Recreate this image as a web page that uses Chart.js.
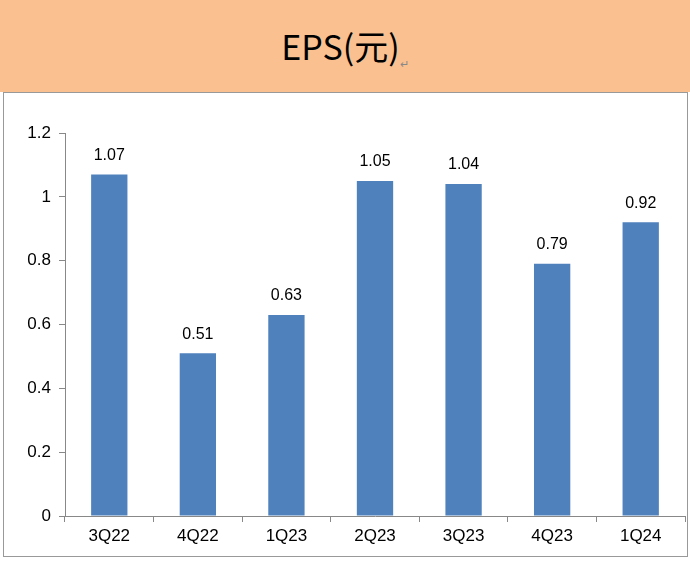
<!DOCTYPE html>
<html><head><meta charset="utf-8">
<script src="https://cdn.jsdelivr.net/npm/chart.js@4"></script>
<style>
body{margin:0;width:690px;height:561px;background:#fff;position:relative;font-family:"Liberation Sans",Arial,sans-serif;overflow:hidden}
#hdr{position:absolute;left:0;top:0;width:690px;height:92px;background:#FAC090;text-align:center;line-height:92px;font-family:"Noto Sans CJK TC","Liberation Sans",sans-serif;font-size:34px;color:#000}
#hdr span{font-size:11px;color:#888;vertical-align:-8px}
#box{position:absolute;left:3px;top:92px;width:683px;height:463px;border:1px solid #999}
</style></head><body>
<div id="hdr">EPS(元)<span>↵</span></div>
<div id="box"><canvas id="c"></canvas></div>
<script>
const categories=['3Q22','4Q22','1Q23','2Q23','3Q23','4Q23','1Q24'];
const eps=[1.07,0.51,0.63,1.05,1.04,0.79,0.92];
const yTicks=[0,0.2,0.4,0.6,0.8,1,1.2];
const labelPlugin={id:'lbl',afterDatasetsDraw(ch){const ctx=ch.ctx;ctx.save();ctx.font='16px "Liberation Sans",Arial';ctx.fillStyle='#000';ctx.textAlign='center';ctx.textBaseline='bottom';
ch.getDatasetMeta(0).data.forEach((b,i)=>{ctx.fillText(eps[i].toFixed(2),b.x,b.y-11);});ctx.restore();}};
new Chart(document.getElementById('c'),{type:'bar',
data:{labels:categories,datasets:[{data:eps,backgroundColor:'#4F81BD',barPercentage:0.41,categoryPercentage:1}]},
options:{responsive:true,maintainAspectRatio:false,animation:false,
layout:{padding:{top:40,right:2,left:0,bottom:0}},
plugins:{legend:{display:false},tooltip:{enabled:false}},
scales:{
x:{afterFit(s){s.height=40},grid:{drawOnChartArea:false,color:'#888',tickLength:6,offset:true},border:{color:'#888'},
ticks:{color:'#000',font:{size:17,family:'"Liberation Sans",Arial'},padding:4}},
y:{min:0,max:1.2,afterFit(s){s.width=61},afterBuildTicks(s){s.ticks=yTicks.map(v=>({value:v}))},
grid:{drawOnChartArea:false,color:'#888',tickLength:6},border:{color:'#888'},
ticks:{color:'#000',font:{size:17,family:'"Liberation Sans",Arial'},padding:8,callback:v=>String(v)}}}},
plugins:[labelPlugin]});
</script></body></html>
